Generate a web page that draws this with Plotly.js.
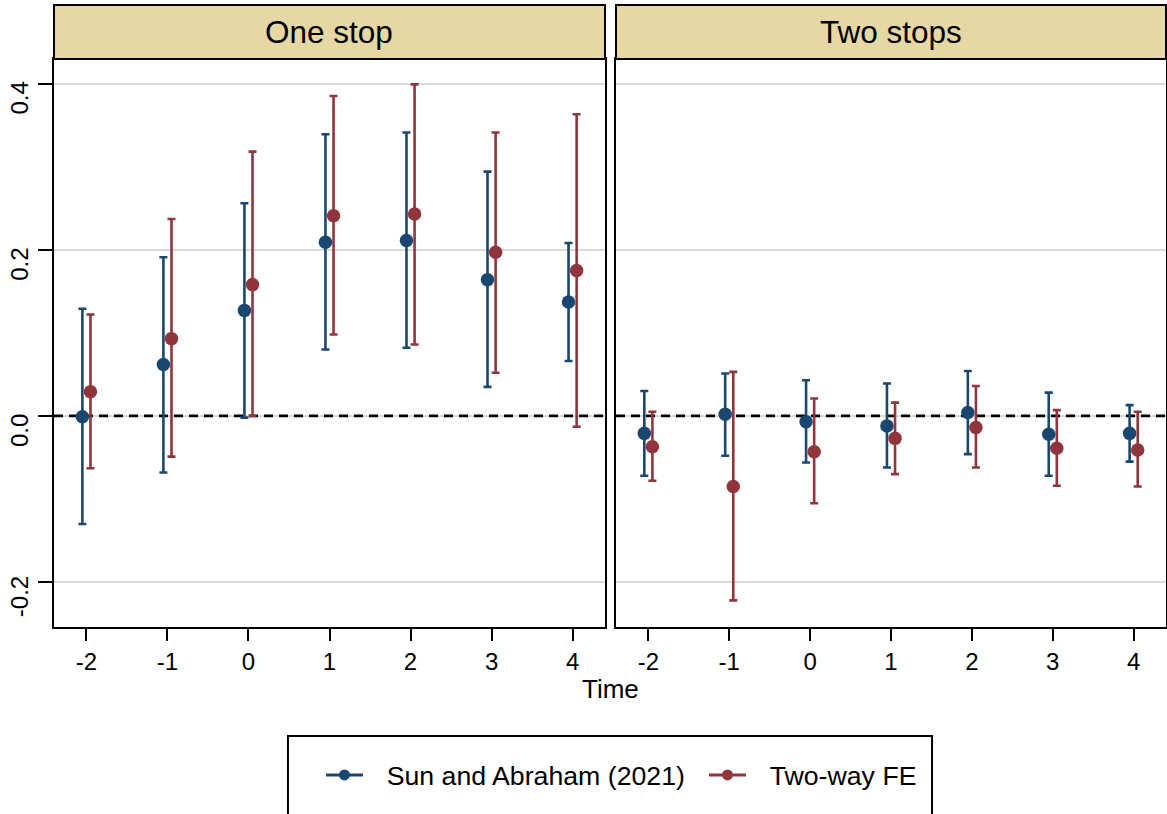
<!DOCTYPE html>
<html>
<head>
<meta charset="utf-8">
<script src="https://cdn.plot.ly/plotly-3.0.1.min.js"></script>
<style>
  html, body { margin: 0; padding: 0; background: #ffffff; }
  #chart { width: 1167px; height: 814px; }
</style>
</head>
<body>
<div id="chart"></div>
<script>
// ---- data ----
const times = [-2, -1, 0, 1, 2, 3, 4];
const yTickVals = [-0.2, 0, 0.2, 0.4];
const yTickText = ['-0.2', '0.0', '0.2', '0.4'];
const panelTitles = ['One stop', 'Two stops'];
const seriesNames = ['Sun and Abraham (2021)', 'Two-way FE'];

// One stop
const oneSA   = [-0.001, 0.062, 0.127, 0.209, 0.211, 0.164, 0.137];
const oneSAlo = [-0.130, -0.068, -0.002, 0.080, 0.082, 0.035, 0.066];
const oneSAhi = [0.129, 0.191, 0.256, 0.339, 0.341, 0.294, 0.208];
const oneFE   = [0.029, 0.093, 0.158, 0.241, 0.243, 0.197, 0.175];
const oneFElo = [-0.063, -0.049, 0.000, 0.098, 0.086, 0.052, -0.013];
const oneFEhi = [0.122, 0.237, 0.318, 0.385, 0.399, 0.341, 0.363];

// Two stops
const twoSA   = [-0.021, 0.002, -0.007, -0.012, 0.004, -0.022, -0.021];
const twoSAlo = [-0.072, -0.048, -0.056, -0.062, -0.046, -0.072, -0.055];
const twoSAhi = [0.030, 0.051, 0.043, 0.039, 0.054, 0.028, 0.013];
const twoFE   = [-0.037, -0.085, -0.043, -0.027, -0.014, -0.039, -0.041];
const twoFElo = [-0.078, -0.222, -0.105, -0.070, -0.062, -0.084, -0.085];
const twoFEhi = [0.005, 0.053, 0.021, 0.016, 0.036, 0.007, 0.005];

// ---- styling ----
const BLUE = '#1a476f';
const RED = '#90353b';
const FONT = 'Liberation Sans, Arial, Helvetica, sans-serif';
const dodge = 0.05;
const LEGEND_PAD = '\u2002\u2009';

function ci(name, col, xs, y, lo, hi, xa, ya) {
  return {
    type: 'scatter', mode: 'markers', name: name, showlegend: false,
    x: xs, y: y, xaxis: xa, yaxis: ya,
    marker: { color: col, size: 13.5 },
    error_y: {
      type: 'data', symmetric: false,
      array: hi.map((h, i) => h - y[i]),
      arrayminus: lo.map((l, i) => y[i] - l),
      color: col, thickness: 2.6, width: 4
    },
    hoverinfo: 'x+y'
  };
}
const xL = times.map(t => t - dodge);
const xR = times.map(t => t + dodge);

const data = [
  ci(seriesNames[0], BLUE, xL, oneSA, oneSAlo, oneSAhi, 'x', 'y'),
  ci(seriesNames[1], RED,  xR, oneFE, oneFElo, oneFEhi, 'x', 'y'),
  ci(seriesNames[0], BLUE, xL, twoSA, twoSAlo, twoSAhi, 'x2', 'y2'),
  ci(seriesNames[1], RED,  xR, twoFE, twoFElo, twoFEhi, 'x2', 'y2'),
  // legend entries
  { type: 'scatter', mode: 'lines+markers', name: LEGEND_PAD + seriesNames[0], x: [null], y: [null],
    line: { color: BLUE, width: 3 }, marker: { color: BLUE, size: 11 }, xaxis: 'x', yaxis: 'y' },
  { type: 'scatter', mode: 'lines+markers', name: LEGEND_PAD + seriesNames[1], x: [null], y: [null],
    line: { color: RED, width: 3 }, marker: { color: RED, size: 11 }, xaxis: 'x', yaxis: 'y' }
];

const domL = [0, 0.4955];
const domR = [0.5054, 1];
const xr = [-2.4, 4.4];
const yr = [-0.254, 0.4295];

function xAxis(dom, anchor) {
  return {
    domain: dom, range: xr, anchor: anchor,
    tickmode: 'array', tickvals: times, ticktext: times.map(String),
    ticks: 'outside', ticklen: 12, tickwidth: 2, tickcolor: '#000',
    showline: true, linewidth: 2, linecolor: '#000', mirror: true,
    showgrid: false, zeroline: false,
    tickfont: { family: FONT, size: 24, color: '#000' }
  };
}

const layout = {
  width: 1167, height: 814,
  margin: { l: 54, r: 1, t: 59, b: 187 },
  paper_bgcolor: '#ffffff', plot_bgcolor: '#ffffff',
  font: { family: FONT, color: '#000' },
  showlegend: true,
  xaxis: xAxis(domL, 'y'),
  xaxis2: xAxis(domR, 'y2'),
  yaxis: {
    domain: [0, 1], range: yr, anchor: 'x',
    tickmode: 'array', tickvals: yTickVals, ticktext: yTickText,
    tickangle: -90, ticklabelshift: 18,
    ticks: 'outside', ticklen: 14, tickwidth: 2, tickcolor: '#000',
    showline: true, linewidth: 2, linecolor: '#000', mirror: true,
    showgrid: true, gridcolor: '#d9d9d9', gridwidth: 2.2, zeroline: false,
    tickfont: { family: FONT, size: 24, color: '#000' }
  },
  yaxis2: {
    domain: [0, 1], range: yr, anchor: 'x2', matches: 'y',
    tickmode: 'array', tickvals: yTickVals,
    showticklabels: false, ticks: '',
    showline: true, linewidth: 2, linecolor: '#000', mirror: true,
    showgrid: true, gridcolor: '#d9d9d9', gridwidth: 2.2, zeroline: false
  },
  legend: {
    orientation: 'h', x: 0.2401, xanchor: 'left', y: -0.2606, yanchor: 'middle',
    font: { family: FONT, size: 26.7, color: '#000' },
    bgcolor: 'rgba(0,0,0,0)', borderwidth: 0,
    entrywidth: 331, entrywidthmode: 'pixels', itemwidth: 37
  },
  shapes: [
    { type: 'rect', xref: 'paper', yref: 'paper', x0: domL[0], x1: domL[1], y0: 1, y1: 1.095,
      fillcolor: '#e6d8a5', line: { color: '#000', width: 2 }, layer: 'above' },
    { type: 'rect', xref: 'paper', yref: 'paper', x0: domR[0], x1: domR[1], y0: 1, y1: 1.095,
      fillcolor: '#e6d8a5', line: { color: '#000', width: 2 }, layer: 'above' },
    { type: 'line', xref: 'x', yref: 'y', x0: xr[0], x1: xr[1], y0: 0, y1: 0,
      line: { color: '#000', width: 2.8, dash: '9px,6px' }, layer: 'between' },
    { type: 'line', xref: 'x2', yref: 'y2', x0: xr[0], x1: xr[1], y0: 0, y1: 0,
      line: { color: '#000', width: 2.8, dash: '9px,6px' }, layer: 'between' },
    { type: 'rect', xref: 'paper', yref: 'paper', x0: 0.2104, x1: 0.7896, y0: -0.1919, y1: -0.45,
      fillcolor: 'rgba(0,0,0,0)', line: { color: '#000', width: 2 } }
  ],
  annotations: [
    { xref: 'paper', yref: 'paper', x: (domL[0] + domL[1]) / 2, y: 1.0484,
      xanchor: 'center', yanchor: 'middle', showarrow: false, text: panelTitles[0],
      font: { family: FONT, size: 31.5, color: '#000' } },
    { xref: 'paper', yref: 'paper', x: (domR[0] + domR[1]) / 2, y: 1.0484,
      xanchor: 'center', yanchor: 'middle', showarrow: false, text: panelTitles[1],
      font: { family: FONT, size: 31.5, color: '#000' } },
    { xref: 'paper', yref: 'paper', x: 0.5, y: -0.109,
      xanchor: 'center', yanchor: 'middle', showarrow: false, text: 'Time',
      font: { family: FONT, size: 26, color: '#000' } }
  ]
};

Plotly.newPlot('chart', data, layout, { displayModeBar: false, responsive: false });
</script>
</body>
</html>
